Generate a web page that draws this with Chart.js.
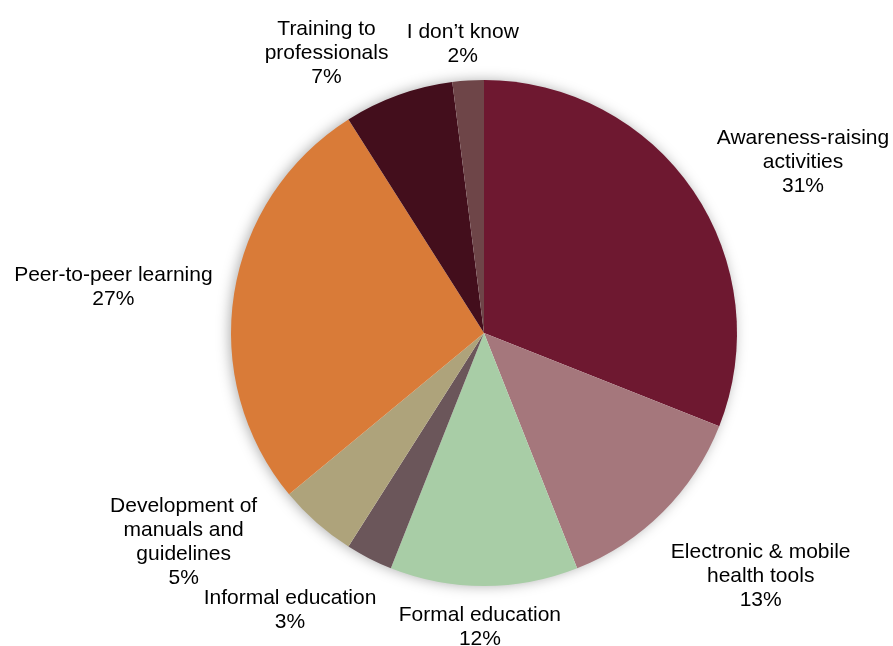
<!DOCTYPE html>
<html>
<head>
<meta charset="utf-8">
<script src="https://cdn.jsdelivr.net/npm/chart.js@4.4.1/dist/chart.umd.min.js"></script>
<style>
  html, body { margin: 0; padding: 0; background: #fff; }
  #wrap { width: 893px; height: 646px; position: relative; }
</style>
</head>
<body>
<div id="wrap"><canvas id="myChart"></canvas></div>
<script>
const categories = [
  ['Awareness-raising', 'activities'],
  ['Electronic & mobile', 'health tools'],
  ['Formal education'],
  ['Informal education'],
  ['Development of', 'manuals and', 'guidelines'],
  ['Peer-to-peer learning'],
  ['Training to', 'professionals'],
  ['I don\u2019t know']
];
const shares = [31, 13, 12, 3, 5, 27, 7, 2];
const sliceColors = ['#6e1830', '#a5777c', '#a8cda6', '#6b565a', '#aea37b', '#d97b38', '#430e1c', '#6e4548'];

// per-label tweaks [degrees, px] so crowded labels don't collide
const labelShift = {
  0: [6, 0], 1: [-3.7, 8], 2: [0.8, 0], 3: [8, 0], 4: [13.8, 9],
  5: [-2, 3], 6: [-9.6, -10], 7: [-0.6, -7]
};

const FONT = '21px "Liberation Sans", Arial, sans-serif';
const LINE_H = 24;

// soft glow behind the whole pie
const pieShadow = {
  id: 'pieShadow',
  beforeDatasetsDraw(chart) {
    const arc = chart.getDatasetMeta(0).data[0];
    if (!arc) return;
    const c = chart.ctx;
    c.save();
    c.shadowColor = 'rgba(0,0,0,0.35)';
    c.shadowBlur = 14;
    c.shadowOffsetX = -2;
    c.shadowOffsetY = 0;
    c.fillStyle = '#fff';
    c.beginPath();
    c.arc(arc.x, arc.y, arc.outerRadius - 1, 0, Math.PI * 2);
    c.fill();
    c.restore();
  }
};

// category name + percentage outside each slice
const outsideLabels = {
  id: 'outsideLabels',
  afterDatasetsDraw(chart) {
    const c = chart.ctx;
    const meta = chart.getDatasetMeta(0);
    c.save();
    c.font = FONT;
    c.fillStyle = '#000';
    c.textAlign = 'center';
    c.textBaseline = 'middle';
    meta.data.forEach((arc, i) => {
      const lines = categories[i].concat([shares[i] + '%']);
      const w = Math.max(...lines.map(l => c.measureText(l).width));
      const h = lines.length * LINE_H;
      const [dAng, dRad] = labelShift[i] || [0, 0];
      const mid = (arc.startAngle + arc.endAngle) / 2 + dAng * Math.PI / 180;
      const cs = Math.cos(mid), sn = Math.sin(mid);
      const d = arc.outerRadius + 16 + dRad + Math.abs(cs) * w / 2 + Math.abs(sn) * h / 2;
      const cx = arc.x + cs * d;
      const cy = arc.y + sn * d;
      lines.forEach((l, k) => {
        c.fillText(l, cx, cy + (k - (lines.length - 1) / 2) * LINE_H);
      });
    });
    c.restore();
  }
};

new Chart(document.getElementById('myChart'), {
  type: 'pie',
  data: {
    labels: categories,
    datasets: [{
      data: shares,
      backgroundColor: sliceColors,
      borderWidth: 0
    }]
  },
  options: {
    responsive: true,
    maintainAspectRatio: false,
    animation: false,
    layout: { padding: { top: 80, bottom: 60, left: 231, right: 156 } },
    plugins: {
      legend: { display: false },
      tooltip: { enabled: false }
    }
  },
  plugins: [pieShadow, outsideLabels]
});
</script>
</body>
</html>
